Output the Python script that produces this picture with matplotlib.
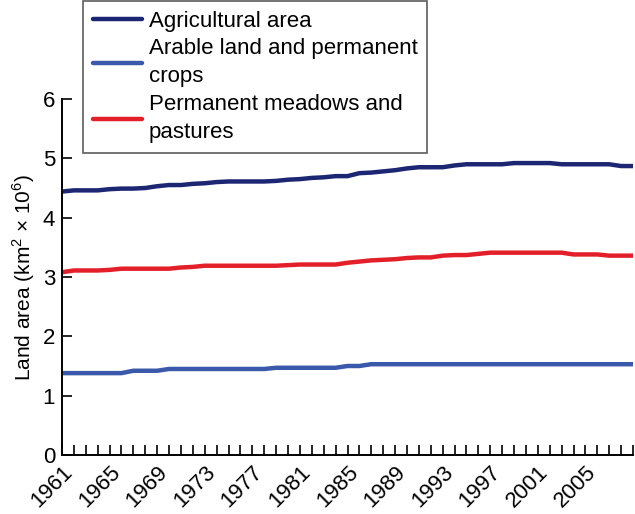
import numpy as np
import matplotlib.pyplot as plt
from matplotlib.ticker import MultipleLocator

plt.rcParams['font.family'] = ['Liberation Sans', 'DejaVu Sans']
plt.rcParams['mathtext.fontset'] = 'custom'
plt.rcParams['mathtext.rm'] = 'Liberation Sans'

# Datos (km2 x 10^6), 1961-2009
anios = np.arange(1961, 2010)

agricola = [4.44, 4.46, 4.46, 4.46, 4.48, 4.49, 4.49, 4.50, 4.53, 4.55,
            4.55, 4.57, 4.58, 4.60, 4.61, 4.61, 4.61, 4.61, 4.62, 4.64,
            4.65, 4.67, 4.68, 4.70, 4.70, 4.75, 4.76, 4.78, 4.80, 4.83,
            4.85, 4.85, 4.85, 4.88, 4.90, 4.90, 4.90, 4.90, 4.92, 4.92,
            4.92, 4.92, 4.90, 4.90, 4.90, 4.90, 4.90, 4.87, 4.87]

cultivable = [1.38, 1.38, 1.38, 1.38, 1.38, 1.38, 1.42, 1.42, 1.42, 1.45,
              1.45, 1.45, 1.45, 1.45, 1.45, 1.45, 1.45, 1.45, 1.47, 1.47,
              1.47, 1.47, 1.47, 1.47, 1.50, 1.50, 1.53, 1.53, 1.53, 1.53,
              1.53, 1.53, 1.53, 1.53, 1.53, 1.53, 1.53, 1.53, 1.53, 1.53,
              1.53, 1.53, 1.53, 1.53, 1.53, 1.53, 1.53, 1.53, 1.53]

pastos = [3.08, 3.11, 3.11, 3.11, 3.12, 3.14, 3.14, 3.14, 3.14, 3.14,
          3.16, 3.17, 3.19, 3.19, 3.19, 3.19, 3.19, 3.19, 3.19, 3.20,
          3.21, 3.21, 3.21, 3.21, 3.24, 3.26, 3.28, 3.29, 3.30, 3.32,
          3.33, 3.33, 3.36, 3.37, 3.37, 3.39, 3.41, 3.41, 3.41, 3.41,
          3.41, 3.41, 3.41, 3.38, 3.38, 3.38, 3.36, 3.36, 3.36]

etiquetas = ['Agricultural area',
             'Arable land and permanent\ncrops',
             'Permanent meadows and\npastures']
colores = ['#1d2673', '#3a59aa', '#e3202a']

fig = plt.figure(figsize=(6.35, 5.14), dpi=100)
ax = fig.add_axes([62/635, 1 - 455/514, 571/635, (455 - 99)/514])

for serie, etiqueta, color in zip([agricola, cultivable, pastos], etiquetas, colores):
    ax.plot(anios, serie, color=color, lw=3.2, label=etiqueta,
            solid_capstyle='round', solid_joinstyle='round')

ax.set_xlim(1961, 2009)
ax.set_ylim(0, 6)
ax.set_xticks(np.arange(1961, 2009, 4))
ax.xaxis.set_minor_locator(MultipleLocator(1))
ax.set_yticks(range(0, 7))
ax.tick_params(axis='both', which='both', direction='in', width=1.2,
               labelsize=16)
ax.tick_params(axis='both', which='major', length=7, pad=5)
ax.tick_params(axis='x', which='minor', length=7)
plt.setp(ax.get_xticklabels(), rotation=45, ha='right', rotation_mode='anchor')

for lado in ['top', 'right']:
    ax.spines[lado].set_visible(False)
for lado in ['left', 'bottom']:
    ax.spines[lado].set_linewidth(1.4)

ax.set_ylabel(r'Land area (km$^2$ × 10$^6$)', fontsize=15)

leg = fig.legend(loc='upper left', bbox_to_anchor=(83/635, 0.999),
                 fontsize=16, frameon=True, fancybox=False,
                 handlelength=2.2, handletextpad=0.3, labelspacing=0.3,
                 borderaxespad=0, borderpad=0.45)
leg.get_frame().set_edgecolor('#333333')
leg.get_frame().set_linewidth(1.2)
for texto in leg.get_texts():
    texto.set_linespacing(1.45)

fig.savefig('out.png', dpi=100)
